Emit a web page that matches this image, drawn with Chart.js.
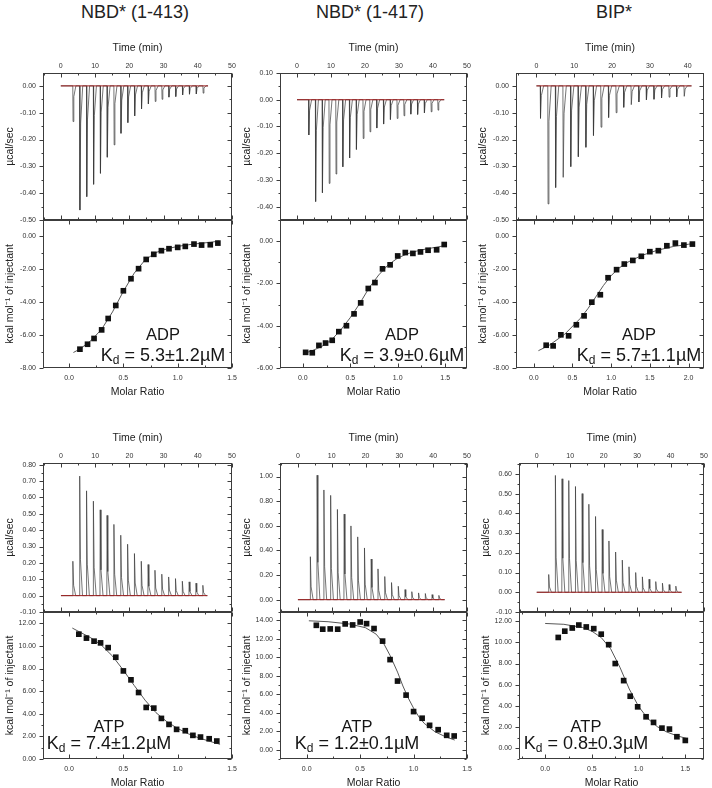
<!DOCTYPE html>
<html>
<head>
<meta charset="utf-8">
<script src="https://cdn.jsdelivr.net/npm/chart.js@4.4.1/dist/chart.umd.min.js"></script>
<style>
  html, body { margin: 0; padding: 0; background: #fff; }
  #page { position: relative; width: 712px; height: 788px; overflow: hidden; }
  .title { position: absolute; top: 2px; width: 200px; line-height: 20px; text-align: center;
           font: 18px "Liberation Sans", Arial, sans-serif; color: #222; }
  canvas { position: absolute; }
</style>
</head>
<body>
<div id="page">
  <div class="title" style="left:35px">NBD* (1-413)</div>
  <div class="title" style="left:270px">NBD* (1-417)</div>
  <div class="title" style="left:514px">BIP*</div>
</div>
<script>
// ---- NBD* (1-413), ADP ----
const adp413Time = [3.5, 5.5, 7.5, 9.5, 11.5, 13.5, 15.5, 17.5, 19.5, 21.5, 23.5, 25.5, 27.5, 29.5, 31.5, 33.5, 35.5, 37.5, 39.5, 41.5];
const adp413Peak = [-0.133, -0.463, -0.413, -0.367, -0.326, -0.266, -0.220, -0.177, -0.137, -0.112, -0.086, -0.067, -0.058, -0.050, -0.042, -0.040, -0.034, -0.031, -0.030, -0.027];
const adp413Ratio = [0.10, 0.17, 0.23, 0.30, 0.36, 0.43, 0.50, 0.57, 0.64, 0.71, 0.78, 0.85, 0.92, 1.00, 1.07, 1.15, 1.22, 1.30, 1.37];
const adp413Heat = [-6.86, -6.56, -6.21, -5.69, -5.00, -4.21, -3.32, -2.59, -1.98, -1.42, -1.11, -0.89, -0.77, -0.69, -0.63, -0.49, -0.55, -0.53, -0.43];
const adp413FitRatio = [0.04, 0.10, 0.20, 0.30, 0.40, 0.50, 0.60, 0.70, 0.80, 0.90, 1.00, 1.10, 1.20, 1.30, 1.38];
const adp413FitHeat = [-7.06, -6.85, -6.35, -5.65, -4.60, -3.35, -2.25, -1.45, -1.00, -0.78, -0.63, -0.53, -0.45, -0.38, -0.31];

// ---- NBD* (1-417), ADP ----
const adp417Time = [3.4, 5.4, 7.4, 9.4, 11.4, 13.4, 15.4, 17.4, 19.4, 21.4, 23.4, 25.4, 27.4, 29.4, 31.4, 33.4, 35.4, 37.4, 39.4, 41.4];
const adp417Peak = [-0.132, -0.381, -0.348, -0.313, -0.278, -0.251, -0.218, -0.186, -0.145, -0.120, -0.106, -0.091, -0.074, -0.070, -0.060, -0.054, -0.055, -0.049, -0.045, -0.039];
const adp417Ratio = [0.03, 0.10, 0.17, 0.24, 0.31, 0.38, 0.46, 0.54, 0.61, 0.69, 0.76, 0.84, 0.92, 1.00, 1.08, 1.16, 1.24, 1.32, 1.41, 1.49];
const adp417Heat = [-5.26, -5.28, -4.93, -4.82, -4.69, -4.28, -4.00, -3.44, -2.92, -2.24, -1.96, -1.31, -1.12, -0.70, -0.54, -0.58, -0.51, -0.43, -0.41, -0.16];
const adp417FitRatio = [0.02, 0.10, 0.20, 0.30, 0.40, 0.50, 0.60, 0.70, 0.80, 0.90, 1.00, 1.10, 1.20, 1.30, 1.40, 1.49];
const adp417FitHeat = [-5.30, -5.18, -4.98, -4.68, -4.20, -3.62, -2.95, -2.20, -1.60, -1.12, -0.80, -0.60, -0.47, -0.37, -0.29, -0.22];

// ---- BIP*, ADP ----
const bipAdpTime = [1, 3, 5, 7, 9, 11, 13, 15, 17, 19, 21, 23, 25, 27, 29, 31, 33, 35, 37, 39];
const bipAdpPeak = [-0.121, -0.440, -0.379, -0.341, -0.301, -0.264, -0.229, -0.185, -0.154, -0.118, -0.100, -0.080, -0.070, -0.060, -0.052, -0.050, -0.045, -0.042, -0.041, -0.039];
const bipAdpRatio = [0.16, 0.25, 0.35, 0.45, 0.55, 0.65, 0.75, 0.86, 0.96, 1.07, 1.17, 1.28, 1.39, 1.50, 1.61, 1.72, 1.83, 1.94, 2.05];
const bipAdpHeat = [-6.62, -6.66, -5.99, -6.05, -5.38, -4.84, -4.01, -3.56, -2.53, -2.04, -1.70, -1.48, -1.23, -0.95, -0.89, -0.59, -0.43, -0.55, -0.49];
const bipAdpFitRatio = [0.06, 0.20, 0.40, 0.60, 0.70, 0.80, 0.90, 1.00, 1.10, 1.20, 1.40, 1.60, 1.80, 2.00, 2.07];
const bipAdpFitHeat = [-6.95, -6.62, -5.95, -5.00, -4.40, -3.70, -3.00, -2.40, -1.95, -1.62, -1.17, -0.86, -0.64, -0.50, -0.45];

// ---- NBD* (1-413), ATP ----
const atp413Time = [3.4, 5.4, 7.4, 9.4, 11.4, 13.4, 15.4, 17.4, 19.4, 21.4, 23.4, 25.4, 27.4, 29.4, 31.4, 33.4, 35.4, 37.4, 39.4, 41.4];
const atp413Peak = [0.210, 0.730, 0.640, 0.577, 0.524, 0.490, 0.435, 0.369, 0.314, 0.257, 0.210, 0.190, 0.155, 0.131, 0.114, 0.104, 0.088, 0.084, 0.076, 0.063];
const atp413Ratio = [0.09, 0.16, 0.23, 0.29, 0.36, 0.43, 0.50, 0.57, 0.64, 0.71, 0.78, 0.85, 0.92, 0.99, 1.07, 1.14, 1.21, 1.29, 1.36];
const atp413Heat = [11.04, 10.69, 10.42, 10.27, 9.85, 9.00, 7.79, 7.00, 5.88, 4.56, 4.50, 3.59, 3.06, 2.62, 2.50, 2.09, 1.94, 1.79, 1.59];
const atp413FitRatio = [0.03, 0.10, 0.20, 0.30, 0.40, 0.50, 0.60, 0.70, 0.80, 0.90, 1.00, 1.10, 1.20, 1.30, 1.39];
const atp413FitHeat = [11.58, 11.22, 10.72, 10.05, 9.10, 7.85, 6.50, 5.20, 4.10, 3.30, 2.70, 2.22, 1.85, 1.55, 1.30];

// ---- NBD* (1-417), ATP ----
const atp417Time = [3.6, 5.6, 7.6, 9.6, 11.6, 13.6, 15.6, 17.6, 19.6, 21.6, 23.6, 25.6, 27.6, 29.6, 31.6, 33.6, 35.6, 37.6, 39.6, 41.6];
const atp417Peak = [0.349, 1.011, 0.891, 0.847, 0.733, 0.695, 0.599, 0.510, 0.420, 0.330, 0.250, 0.188, 0.139, 0.109, 0.082, 0.065, 0.055, 0.050, 0.041, 0.035];
const atp417Ratio = [0.09, 0.15, 0.22, 0.29, 0.36, 0.43, 0.50, 0.56, 0.63, 0.71, 0.78, 0.85, 0.93, 1.00, 1.08, 1.15, 1.23, 1.31, 1.38];
const atp417Heat = [13.46, 13.04, 13.07, 13.04, 13.61, 13.50, 13.82, 13.64, 13.11, 11.75, 9.75, 7.43, 5.91, 4.13, 3.41, 2.64, 2.17, 1.56, 1.49];
const atp417FitRatio = [0.02, 0.20, 0.40, 0.55, 0.65, 0.72, 0.78, 0.85, 0.90, 0.95, 1.00, 1.05, 1.10, 1.20, 1.30, 1.385];
const atp417FitHeat = [13.95, 13.85, 13.60, 13.20, 12.50, 11.50, 10.20, 8.40, 6.90, 5.60, 4.50, 3.55, 2.85, 1.95, 1.40, 1.05];

// ---- BIP*, ATP ----
const bipAtpTime = [3.5, 5.5, 7.5, 9.5, 11.5, 13.5, 15.5, 17.5, 19.5, 21.5, 23.5, 25.5, 27.5, 29.5, 31.5, 33.5, 35.5, 37.5, 39.5, 41.5];
const bipAtpPeak = [0.090, 0.592, 0.575, 0.566, 0.536, 0.500, 0.446, 0.384, 0.318, 0.260, 0.204, 0.163, 0.129, 0.100, 0.078, 0.066, 0.054, 0.046, 0.039, 0.031];
const bipAtpRatio = [0.14, 0.21, 0.29, 0.36, 0.44, 0.52, 0.60, 0.68, 0.75, 0.84, 0.91, 0.99, 1.08, 1.16, 1.25, 1.33, 1.41, 1.50];
const bipAtpHeat = [10.46, 11.05, 11.35, 11.63, 11.45, 11.29, 10.77, 9.78, 8.00, 6.39, 4.92, 3.92, 2.98, 2.45, 1.91, 1.82, 1.10, 0.75];
const bipAtpFitRatio = [0.00, 0.20, 0.40, 0.50, 0.60, 0.70, 0.80, 0.90, 1.00, 1.10, 1.20, 1.30, 1.40, 1.52];
const bipAtpFitHeat = [11.78, 11.70, 11.40, 11.05, 10.45, 9.40, 7.65, 5.60, 3.95, 2.80, 2.05, 1.55, 1.22, 0.92];

// run end (min) of each baseline
const runEnd = { adp413: 43, adp417: 43.3, bipAdp: 41, atp413: 42.8, atp417: 43.4, bipAtp: 43.3 };

Chart.defaults.font.family = '"Liberation Sans", Arial, sans-serif';
Chart.defaults.color = '#333';

const AXIS_W = 43;   // room for y ticks + title
const TOP_H = 35;    // room for "Time (min)"
const BOT_H = 34;    // room for "Molar Ratio"
const PAD = 8;
const SPIKE = [[0, 0], [0.08, 1], [0.3, 0.3], [0.9, 0]]; // outline of one injection peak

const page = document.getElementById('page');

function addCanvas(left, top, width, height) {
  const c = document.createElement('canvas');
  c.width = width;
  c.height = height;
  c.style.left = left + 'px';
  c.style.top = top + 'px';
  c.style.width = width + 'px';
  c.style.height = height + 'px';
  page.appendChild(c);
  return c;
}

function trace(times, peaks, end) {
  const pts = [{ x: 0, y: 0 }];
  times.forEach((t, i) => {
    SPIKE.forEach(([dt, f]) => pts.push({ x: t + dt, y: f * peaks[i] }));
  });
  pts.push({ x: end, y: 0 });
  return pts;
}

function xy(xs, ys) {
  return xs.map((x, i) => ({ x: x, y: ys[i] }));
}

// box round the plot plus small tick marks
const framePlugin = {
  id: 'frame',
  afterDatasetsDraw(chart) {
    const { ctx, chartArea: a, scales } = chart;
    const l = Math.round(a.left) + 0.5, r = Math.round(a.right) - 0.5;
    const t = Math.round(a.top) + 0.5, b = Math.round(a.bottom) - 0.5;
    ctx.save();
    ctx.strokeStyle = '#3c3c3c';
    ctx.lineWidth = 1;
    ctx.strokeRect(l, t, r - l, b - t);
    const marks = (s) => {
      const v = s.ticks.map(k => k.value);
      const step = v.length > 1 ? v[1] - v[0] : 1;
      const out = [];
      for (let x = v[0] - step; x <= s.max + 1e-9; x += step / 2) {
        if (x >= s.min - 1e-9) out.push([s.getPixelForValue(x), Math.abs(Math.round((x - v[0]) / step * 2)) % 2 === 0]);
      }
      return out;
    };
    ctx.beginPath();
    marks(scales.x).forEach(([px, major]) => {
      const n = major ? 4 : 2;
      const p = Math.round(px) + 0.5;
      ctx.moveTo(p, t); ctx.lineTo(p, t + n);
      ctx.moveTo(p, b); ctx.lineTo(p, b - n);
    });
    marks(scales.y).forEach(([py, major]) => {
      const n = major ? 4 : 2;
      const p = Math.round(py) + 0.5;
      ctx.moveTo(l, p); ctx.lineTo(l - n, p);
      ctx.moveTo(r, p); ctx.lineTo(r - n, p);
    });
    ctx.stroke();
    ctx.restore();
  }
};

// "ADP / Kd = ..." note in the isotherm
const kdPlugin = {
  id: 'kd',
  afterDatasetsDraw(chart, args, o) {
    const { ctx, chartArea: a } = chart;
    const head = '16.5px "Liberation Sans", Arial, sans-serif';
    const big = '18px "Liberation Sans", Arial, sans-serif';
    const small = '12px "Liberation Sans", Arial, sans-serif';
    const cx = a.left + o.cx;
    ctx.save();
    ctx.fillStyle = '#151515';
    ctx.textBaseline = 'middle';
    ctx.textAlign = 'left';
    ctx.font = head;
    ctx.fillText(o.label, cx - ctx.measureText(o.label).width / 2, a.bottom - o.dyLabel);
    ctx.font = big;
    const rest = ' = ' + o.text;
    const wK = ctx.measureText('K').width;
    const wR = ctx.measureText(rest).width;
    ctx.font = small;
    const wD = ctx.measureText('d').width;
    let x = cx - (wK + wD + wR) / 2;
    const y = a.bottom - o.dyKd;
    ctx.font = big;
    ctx.fillText('K', x, y);
    x += wK;
    ctx.font = small;
    ctx.fillText('d', x, y + 5);
    x += wD;
    ctx.font = big;
    ctx.fillText(rest, x, y);
    ctx.restore();
  }
};

function yAxis(range, step, title) {
  return {
    type: 'linear', position: 'left', min: range[0], max: range[1],
    grid: { display: false, drawTicks: false }, border: { display: false },
    ticks: { stepSize: step, includeBounds: false, padding: 7, font: { size: 7 }, callback: v => v.toFixed(2) },
    title: { display: true, text: title, font: { size: 10.5 }, color: '#222', padding: { top: 4, bottom: 0 } },
    afterFit: s => { s.width = AXIS_W; s.paddingTop = 0; s.paddingBottom = 0; }
  };
}

function thermoChart(p) {
  const cv = addCanvas(p.L - AXIS_W, p.T - TOP_H, p.R - p.L + AXIS_W + PAD, p.M - p.T + TOP_H + PAD);
  new Chart(cv, {
    type: 'scatter',
    data: {
      datasets: [
        { data: [{ x: 0, y: 0 }, { x: p.trace[2], y: 0 }], showLine: true, borderColor: '#9b1c1c', borderWidth: 1, pointRadius: 0 },
        { data: trace(p.trace[0], p.trace[1], p.trace[2]), showLine: true, borderColor: '#3a3a3a', borderWidth: 0.7, pointRadius: 0 }
      ]
    },
    options: {
      responsive: false, animation: false, devicePixelRatio: 1,
      layout: { padding: { left: 0, top: 0, right: PAD, bottom: PAD } },
      plugins: { legend: { display: false }, tooltip: { enabled: false } },
      scales: {
        x: {
          type: 'linear', position: 'top', min: p.time[0], max: p.time[1],
          grid: { display: false, drawTicks: false }, border: { display: false },
          ticks: { stepSize: 10, includeBounds: false, padding: 3, maxRotation: 0, font: { size: 7 } },
          title: { display: true, text: 'Time (min)', font: { size: 10.5 }, color: '#222', padding: { top: 4, bottom: 0 } },
          afterFit: s => { s.height = TOP_H; s.paddingLeft = 0; s.paddingRight = 0; }
        },
        y: yAxis(p.heat, p.heatStep, 'µcal/sec')
      }
    },
    plugins: [framePlugin]
  });
}

function isoChart(p) {
  const cv = addCanvas(p.L - AXIS_W, p.M - PAD, p.R - p.L + AXIS_W + PAD, p.B - p.M + PAD + BOT_H);
  new Chart(cv, {
    type: 'scatter',
    data: {
      datasets: [
        { data: xy(p.points[0], p.points[1]), pointStyle: 'rect', pointRadius: 4, backgroundColor: '#111', borderColor: '#111', borderWidth: 0 },
        { data: xy(p.fit[0], p.fit[1]), showLine: true, borderColor: '#444', borderWidth: 0.9, pointRadius: 0 }
      ]
    },
    options: {
      responsive: false, animation: false, devicePixelRatio: 1,
      layout: { padding: { left: 0, top: PAD, right: PAD, bottom: 0 } },
      plugins: { legend: { display: false }, tooltip: { enabled: false }, kd: p.kd },
      scales: {
        x: {
          type: 'linear', position: 'bottom', min: p.ratio[0], max: p.ratio[1],
          grid: { display: false, drawTicks: false }, border: { display: false },
          ticks: { stepSize: 0.5, includeBounds: false, padding: 6, maxRotation: 0, font: { size: 7 }, callback: v => v.toFixed(1) },
          title: { display: true, text: 'Molar Ratio', font: { size: 10.5 }, color: '#222', padding: { top: 4, bottom: 4 } },
          afterFit: s => { s.height = BOT_H; s.paddingLeft = 0; s.paddingRight = 0; }
        },
        y: yAxis(p.enth, 2, 'kcal mol⁻¹ of injectant')
      }
    },
    plugins: [framePlugin, kdPlugin]
  });
}

const panels = [
  { L: 43, T: 73, R: 232, M: 220, B: 368, time: [-5.2, 50], heat: [-0.5, 0.048], heatStep: 0.1, ratio: [-0.24, 1.5], enth: [-8, 0.97],
    trace: [adp413Time, adp413Peak, runEnd.adp413], points: [adp413Ratio, adp413Heat], fit: [adp413FitRatio, adp413FitHeat],
    kd: { label: 'ADP', text: '5.3±1.2µM', cx: 120, dyLabel: 33, dyKd: 12 } },
  { L: 280, T: 73, R: 467, M: 220, B: 368, time: [-5, 50], heat: [-0.45, 0.10], heatStep: 0.1, ratio: [-0.24, 1.73], enth: [-6, 1.0],
    trace: [adp417Time, adp417Peak, runEnd.adp417], points: [adp417Ratio, adp417Heat], fit: [adp417FitRatio, adp417FitHeat],
    kd: { label: 'ADP', text: '3.9±0.6µM', cx: 122, dyLabel: 33, dyKd: 12 } },
  { L: 516, T: 73, R: 704, M: 220, B: 368, time: [-5.4, 44.3], heat: [-0.5, 0.048], heatStep: 0.1, ratio: [-0.23, 2.2], enth: [-8, 0.97],
    trace: [bipAdpTime, bipAdpPeak, runEnd.bipAdp], points: [bipAdpRatio, bipAdpHeat], fit: [bipAdpFitRatio, bipAdpFitHeat],
    kd: { label: 'ADP', text: '5.7±1.1µM', cx: 123, dyLabel: 33, dyKd: 12 } },
  { L: 43, T: 463, R: 232, M: 612, B: 759, time: [-5.25, 50], heat: [-0.1, 0.81], heatStep: 0.1, ratio: [-0.24, 1.5], enth: [0, 13],
    trace: [atp413Time, atp413Peak, runEnd.atp413], points: [atp413Ratio, atp413Heat], fit: [atp413FitRatio, atp413FitHeat],
    kd: { label: 'ATP', text: '7.4±1.2µM', cx: 66, dyLabel: 32, dyKd: 15 } },
  { L: 280, T: 463, R: 467, M: 612, B: 759, time: [-5.3, 50], heat: [-0.1, 1.11], heatStep: 0.2, ratio: [-0.25, 1.5], enth: [-1, 14.9],
    trace: [atp417Time, atp417Peak, runEnd.atp417], points: [atp417Ratio, atp417Heat], fit: [atp417FitRatio, atp417FitHeat],
    kd: { label: 'ATP', text: '1.2±0.1µM', cx: 77, dyLabel: 32, dyKd: 15 } },
  { L: 519, T: 463, R: 704, M: 612, B: 759, time: [-5.3, 50], heat: [-0.1, 0.655], heatStep: 0.1, ratio: [-0.28, 1.7], enth: [-1, 12.86],
    trace: [bipAtpTime, bipAtpPeak, runEnd.bipAtp], points: [bipAtpRatio, bipAtpHeat], fit: [bipAtpFitRatio, bipAtpFitHeat],
    kd: { label: 'ATP', text: '0.8±0.3µM', cx: 67, dyLabel: 32, dyKd: 15 } }
];

panels.forEach(p => {
  thermoChart(p);
  isoChart(p);
});
</script>
</body>
</html>
